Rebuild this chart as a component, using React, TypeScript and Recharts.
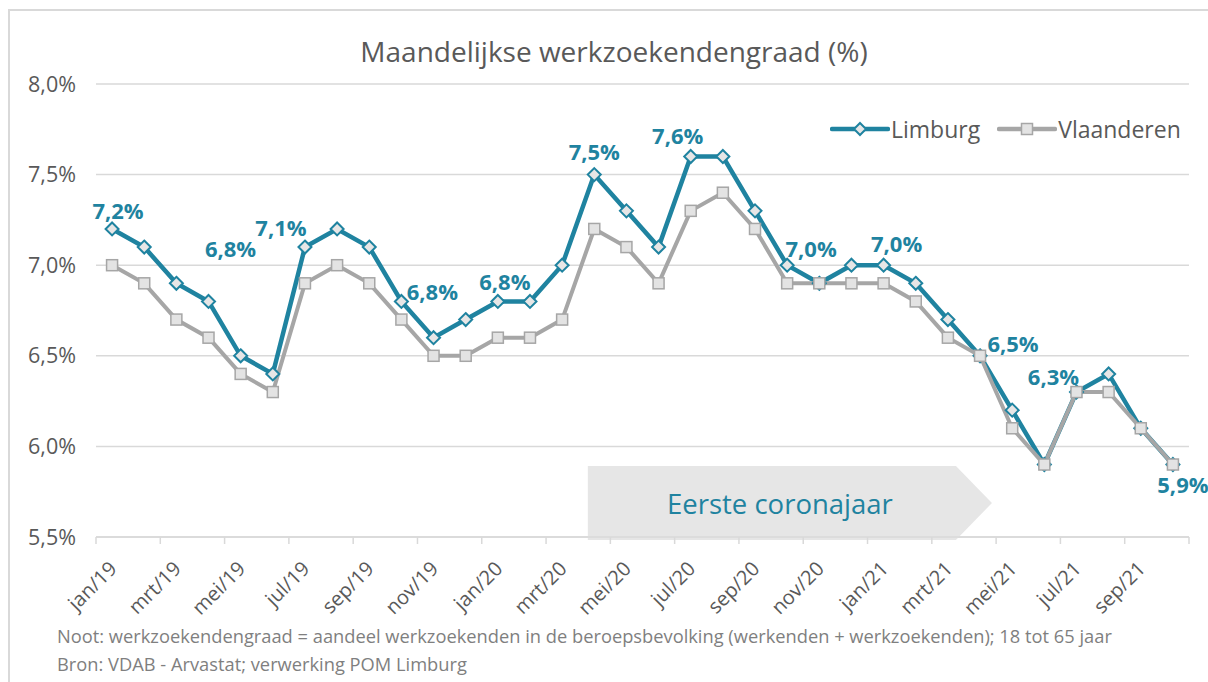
import { LineChart, Line, XAxis, YAxis, CartesianGrid, LabelList, ReferenceArea } from 'recharts';

const months = [
  'jan/19', 'feb/19', 'mrt/19', 'apr/19', 'mei/19', 'jun/19', 'jul/19', 'aug/19', 'sep/19', 'okt/19', 'nov/19', 'dec/19',
  'jan/20', 'feb/20', 'mrt/20', 'apr/20', 'mei/20', 'jun/20', 'jul/20', 'aug/20', 'sep/20', 'okt/20', 'nov/20', 'dec/20',
  'jan/21', 'feb/21', 'mrt/21', 'apr/21', 'mei/21', 'jun/21', 'jul/21', 'aug/21', 'sep/21', 'okt/21',
];

const limburg = [
  7.2, 7.1, 6.9, 6.8, 6.5, 6.4, 7.1, 7.2, 7.1, 6.8, 6.6, 6.7,
  6.8, 6.8, 7.0, 7.5, 7.3, 7.1, 7.6, 7.6, 7.3, 7.0, 6.9, 7.0,
  7.0, 6.9, 6.7, 6.5, 6.2, 5.9, 6.3, 6.4, 6.1, 5.9,
];

const vlaanderen = [
  7.0, 6.9, 6.7, 6.6, 6.4, 6.3, 6.9, 7.0, 6.9, 6.7, 6.5, 6.5,
  6.6, 6.6, 6.7, 7.2, 7.1, 6.9, 7.3, 7.4, 7.2, 6.9, 6.9, 6.9,
  6.9, 6.8, 6.6, 6.5, 6.1, 5.9, 6.3, 6.3, 6.1, 5.9,
];

const yTicks = [5.5, 6.0, 6.5, 7.0, 7.5, 8.0];
// category boundaries, every second month
const xTicks = Array.from({ length: 18 }, (_, k) => -0.5 + 2 * k);

// which Limburg points carry a label, and where the label sits (dx, dy)
const labelOffsets: Record<number, [number, number]> = {
  0: [6, -19],
  3: [22, -53],
  6: [-24, -20],
  9: [31, -10],
  12: [7, -20],
  15: [0, -24],
  18: [-13, -21],
  21: [24, -17],
  24: [13, -22],
  27: [33, -13],
  30: [-23, -16],
  33: [10, 19],
};

const TEAL = '#1F83A0';
const GRAY = '#A6A6A6';
const TEXT = '#595959';
const FONT = '"Open Sans", sans-serif';

const data = months.map((m, i) => ({ idx: i, month: m, limburg: limburg[i], vlaanderen: vlaanderen[i] }));

const pct = (v: number) => v.toFixed(1).replace('.', ',') + '%';

const Diamond = (props: any) => {
  const { cx, cy, index } = props;
  if (cx == null || cy == null) return null;
  const r = 6.5;
  return (
    <path
      key={`d-${index}`}
      d={`M${cx},${cy - r}L${cx + r},${cy}L${cx},${cy + r}L${cx - r},${cy}Z`}
      fill="#E7E6E6"
      stroke={TEAL}
      strokeWidth={2}
    />
  );
};

const Square = (props: any) => {
  const { cx, cy, index } = props;
  if (cx == null || cy == null) return null;
  const s = 5.5;
  return (
    <rect key={`s-${index}`} x={cx - s} y={cy - s} width={2 * s} height={2 * s} fill="#E3E3E3" stroke={GRAY} strokeWidth={1.5} />
  );
};

const XTick = (props: any) => {
  const { x, y, payload } = props;
  const i = Math.round(payload.value + 0.5);
  if (i >= months.length || i % 2 !== 0) return null;
  const ax = x + 22;
  const ay = y + 24;
  return (
    <text x={ax} y={ay} transform={`rotate(-45 ${ax} ${ay})`} textAnchor="end" fontSize={20} fill={TEXT} fontFamily={FONT}>
      {months[i]}
    </text>
  );
};

const PointLabel = (props: any) => {
  const { x, y, value, index } = props;
  const off = labelOffsets[index];
  if (!off) return null;
  return (
    <text
      x={x + off[0]}
      y={y + off[1]}
      textAnchor="middle"
      dominantBaseline="central"
      fontSize={22}
      fontWeight={700}
      fill={TEAL}
      fontFamily={FONT}
    >
      {pct(value)}
    </text>
  );
};

const Arrow = (props: any) => {
  const { x, y, width, height } = props;
  const tip = 36;
  const d = `M${x},${y}L${x + width - tip},${y}L${x + width},${y + height / 2}L${x + width - tip},${y + height}L${x},${y + height}Z`;
  return (
    <g>
      <path d={d} fill="#E6E6E6" />
      <text
        x={x + (width - tip) / 2 + 8}
        y={y + height / 2}
        textAnchor="middle"
        dominantBaseline="central"
        fontSize={27.5}
        fill={TEAL}
        fontFamily={FONT}
      >
        Eerste coronajaar
      </text>
    </g>
  );
};

const LegendItem = ({ label, color, marker }: { label: string; color: string; marker: 'diamond' | 'square' }) => (
  <div style={{ display: 'flex', alignItems: 'center', marginRight: 17 }}>
    <svg width={60} height={16}>
      <line x1={2} y1={8} x2={58} y2={8} stroke={color} strokeWidth={4.5} strokeLinecap="round" />
      {marker === 'diamond' ? (
        <path d="M30,2L36,8L30,14L24,8Z" fill="#E7E6E6" stroke={TEAL} strokeWidth={2} />
      ) : (
        <rect x={24.5} y={2.5} width={11} height={11} fill="#E3E3E3" stroke={GRAY} strokeWidth={1.5} />
      )}
    </svg>
    <span style={{ fontSize: 23, color: TEXT, marginLeft: 1 }}>{label}</span>
  </div>
);

export default function App() {
  return (
    <div style={{ position: 'absolute', left: 0, top: 0, width: 1208, height: 682, background: '#fff', fontFamily: FONT, overflow: 'hidden' }}>
      <div
        style={{
          position: 'absolute',
          left: 8,
          top: 9,
          width: 1200,
          height: 673,
          borderTop: '2px solid #D9D9D9',
          borderLeft: '2px solid #D9D9D9',
        }}
      />
      <div
        style={{
          position: 'absolute',
          left: 614,
          top: 32,
          transform: 'translateX(-50%)',
          whiteSpace: 'nowrap',
          fontSize: 28,
          color: TEXT,
        }}
      >
        Maandelijkse werkzoekendengraad (%)
      </div>
      <div style={{ position: 'absolute', left: 830, top: 113, display: 'flex' }}>
        <LegendItem label="Limburg" color={TEAL} marker="diamond" />
        <LegendItem label="Vlaanderen" color={GRAY} marker="square" />
      </div>

      <div style={{ position: 'absolute', left: 0, top: 0 }}>
        <LineChart width={1208} height={682} data={data} margin={{ top: 84, right: 19, left: 10, bottom: 65 }}>
          <CartesianGrid vertical={false} stroke="#D9D9D9" strokeWidth={1.5} />
          <XAxis
            dataKey="idx"
            type="number"
            domain={[-0.5, 33.5]}
            ticks={xTicks}
            interval={0}
            height={80}
            stroke="#D9D9D9"
            strokeWidth={1.5}
            tickSize={7}
            tickMargin={2}
            tick={<XTick />}
          />
          <YAxis
            domain={[5.5, 8]}
            ticks={yTicks}
            width={86}
            axisLine={false}
            tickLine={false}
            tickSize={0}
            tickMargin={20}
            tickFormatter={pct}
            tick={{ fontSize: 21.5, fill: TEXT, fontFamily: FONT }}
          />
          <ReferenceArea x1={14.8} x2={27.37} y1={5.483} y2={5.892} ifOverflow="visible" shape={<Arrow />} />
          <Line
            type="linear"
            dataKey="limburg"
            stroke={TEAL}
            strokeWidth={4.5}
            dot={<Diamond />}
            activeDot={false}
            isAnimationActive={false}
          >
            <LabelList dataKey="limburg" content={<PointLabel />} />
          </Line>
          <Line
            type="linear"
            dataKey="vlaanderen"
            stroke={GRAY}
            strokeWidth={4}
            dot={<Square />}
            activeDot={false}
            isAnimationActive={false}
          />
        </LineChart>
      </div>

      <div style={{ position: 'absolute', left: 57, top: 622, fontSize: 18.3, color: '#7F7F7F', whiteSpace: 'nowrap', lineHeight: '28px' }}>
        <div>Noot: werkzoekendengraad = aandeel werkzoekenden in de beroepsbevolking (werkenden + werkzoekenden); 18 tot 65 jaar</div>
        <div>Bron: VDAB - Arvastat; verwerking POM Limburg</div>
      </div>
    </div>
  );
}
